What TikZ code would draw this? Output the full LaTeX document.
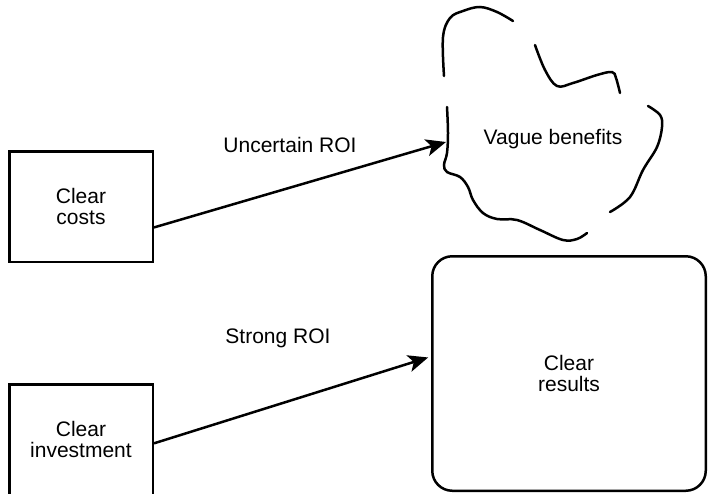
\documentclass[tikz,border=0pt]{standalone}
\usepackage{fontspec}
\setmainfont{Liberation Sans}
\usetikzlibrary{arrows.meta}
\begin{document}
\begin{tikzpicture}[x=1pt,y=-1pt,
  every node/.style={font=\fontsize{21}{21}\selectfont},
  box/.style={draw, line width=2.5pt, align=center, inner sep=0pt},
  flow/.style={line width=2.5pt, -{Stealth[length=20pt,width=17pt,inset=5pt]}},
  sketch/.style={line width=2.5pt, line cap=round}]
\useasboundingbox (0,0) rectangle (708,493);

% boxes
\node[box, minimum width=143.5pt, minimum height=110.5pt] (costs) at (81,206.5) {Clear\\costs};
\node[box, minimum width=143.5pt, minimum height=110.5pt] (inv) at (81,439.5) {Clear\\investment};
\node[box, rounded corners=20pt, minimum width=273.5pt, minimum height=234.5pt] (results) at (569,373.5) {Clear\\results};

% the hand-drawn cloud, in four open strokes
\draw[sketch] plot[smooth, tension=0.6] coordinates {(444,76) (443,37) (450,18) (463,11) (480,7) (497,12) (513,21)};
\draw[sketch] plot[smooth, tension=0.6] coordinates {(535,45) (545,70) (557,86) (573,83) (597,75) (612,72) (616,78) (620,93)};
\draw[sketch] plot[smooth, tension=0.6] coordinates {(648,106) (660,115) (662,127) (657,147) (643,170) (630,197) (610,212)};
\draw[sketch] plot[smooth, tension=0.6] coordinates {(587,233) (577,239) (563,240) (540,230) (517,220) (497,219) (483,213) (473,200) (468,187) (460,177) (447,172) (444,165) (447,153) (448,133) (447,107)};
\node[anchor=base] (vague) at (553,144) {Vague benefits};
\coordinate (vaguein) at (446,142);

% connectors
\draw[flow] (costs.-16) -- (vaguein);
\draw[flow, shorten >=3pt] (inv.-3) -- (results.173.5);

% connector labels
\node[anchor=base] (uroi) at (290,152) {Uncertain ROI};
\node[anchor=base] (sroi) at (278,343) {Strong ROI};
\end{tikzpicture}
\end{document}
